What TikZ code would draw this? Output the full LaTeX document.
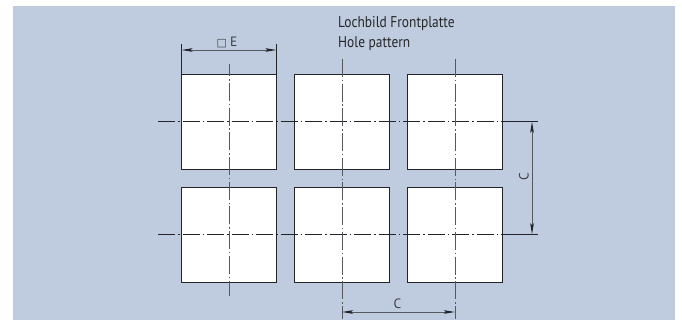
\documentclass[tikz,border=0pt]{standalone}
\usepackage{fontspec}
\setmainfont[FakeStretch=0.86]{PT Sans}
\newfontfamily\symfont{DejaVu Sans}
\newfontfamily\dimfont{PT Sans}
\usetikzlibrary{arrows.meta}
\definecolor{panel}{RGB}{191,204,223}
\definecolor{inkline}{RGB}{35,35,40}
\definecolor{axisgray}{RGB}{85,88,95}
\tikzset{
  x=1pt,y=-1pt,
  hole/.style={draw=inkline,fill=white,line width=0.9pt,minimum size=95pt,inner sep=0pt,outer sep=0pt,anchor=north west},
  axisv/.style={draw=axisgray,line width=1pt,dash pattern=on 18pt off 2.8pt on 1.5pt off 2.4pt},
  axish/.style={draw=inkline,line width=0.8pt,dash pattern=on 17pt off 3pt on 1.5pt off 3pt},
  extline/.style={draw=inkline,line width=0.8pt},
  dimline/.style={draw=axisgray,line width=0.9pt,{Stealth[length=11pt,width=3.6pt,inset=2pt,color=inkline]}-{Stealth[length=11pt,width=3.6pt,inset=2pt,color=inkline]}},
  lbl/.style={inner sep=0pt,text=black!85,font=\fontsize{15.6}{17}\selectfont,anchor=base west},
  dimlbl/.style={inner sep=0pt,text=black!75,font=\dimfont\fontsize{13.5}{15}\selectfont},
}
\begin{document}
\begin{tikzpicture}
\useasboundingbox (0,0) rectangle (682,320);
\fill[panel] (13,6) rectangle (675,320);
% holes
\node[hole] (a1) at (181.5,74) {};
\node[hole] (b1) at (294.5,74) {};
\node[hole] (c1) at (407.5,74) {};
\node[hole] (a2) at (181.5,187) {};
\node[hole] (b2) at (294.5,187) {};
\node[hole] (c2) at (407.5,187) {};
% axis ends
\coordinate (atop) at (229,64);
\coordinate (abot) at (229,296);
\coordinate (btop) at (342,59);
\coordinate (bbot) at (342,319);
\coordinate (ctop) at (455,59);
\coordinate (cbot) at (455,319);
\coordinate (r1l) at (158,121.7);
\coordinate (r1m) at (502.5,121.7);
\coordinate (r1r) at (538,121.7);
\coordinate (r2l) at (158,234.3);
\coordinate (r2m) at (502.5,234.3);
\coordinate (r2r) at (538,234.3);
% centre lines
\draw[axish] (r1l) -- (r1m);
\draw[axish] (r2l) -- (r2m);
\draw[extline] (r1m) -- (r1r);
\draw[extline] (r2m) -- (r2r);
\draw[axisv,dash phase=5.7pt] (atop) -- (abot);
\draw[axisv] (btop) -- (bbot);
\draw[axisv] (ctop) -- (cbot);
% dimension E
\coordinate (e1) at (181.5,44);
\coordinate (e2) at (276.5,44);
\draw[extline] (e1) -- (a1.north west);
\draw[extline] (e2) -- (a1.north east);
\coordinate (ed1) at (181.5,50);
\coordinate (ed2) at (276.5,50);
\draw[dimline] (ed1) -- (ed2);
\node[dimlbl,anchor=base] (elabel) at (227,47) {{\symfont\fontsize{11}{13}\selectfont □}\hspace{3pt}E};
% dimension C vertical
\coordinate (cv1) at (532,121.7);
\coordinate (cv2) at (532,234.3);
\draw[dimline] (cv1) -- (cv2);
\node[dimlbl,rotate=90] (cvlabel) at (524,177) {C};
% dimension C horizontal
\coordinate (ch1) at (342,312);
\coordinate (ch2) at (455,312);
\draw[dimline] (ch1) -- (ch2);
\node[dimlbl] (chlabel) at (397.5,304) {C};
% title
\node[lbl] (t1) at (338,27.5) {Lochbild Frontplatte};
\node[lbl] (t2) at (338,47.5) {Hole pattern};
\end{tikzpicture}
\end{document}
